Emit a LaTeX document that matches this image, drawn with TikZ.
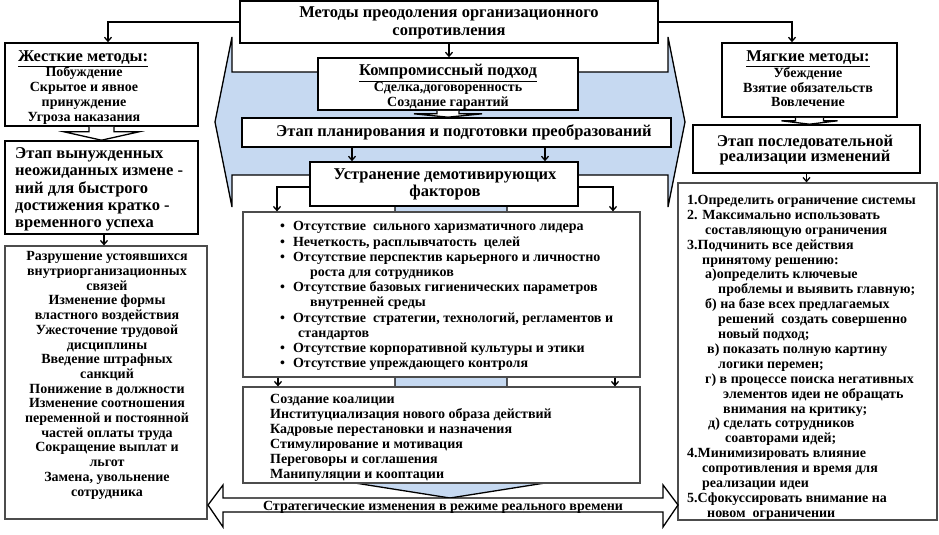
\documentclass[tikz,border=0pt]{standalone}
\usepackage{fontspec}
\setmainfont{Liberation Serif}
\usetikzlibrary{arrows.meta,calc}
\definecolor{paleblue}{RGB}{198,217,241}
\begin{document}
\begin{tikzpicture}[x=1pt,y=-1pt,
  hbox/.style n args={2}{draw=black,line width=1.6pt,fill=white,inner sep=0pt,minimum width=#1pt,minimum height=#2pt},
  lbox/.style n args={2}{draw=black!70,line width=1.2pt,fill=white,inner sep=0pt,minimum width=#1pt,minimum height=#2pt},
  head/.style={inner sep=0pt,font=\bfseries\fontsize{16.5}{17.5}\selectfont,align=center},
  body/.style={inner sep=0pt,font=\bfseries\fontsize{14}{14.8}\selectfont},
  arr/.style={line width=1.3pt,-{Straight Barb[length=4pt,width=7pt]}},
  chev/.style={draw=black,line width=1.3pt,fill=white,line join=miter},
  blueshape/.style={draw=black,line width=1.3pt,fill=paleblue,line join=miter}]
\useasboundingbox (0,0) rectangle (939,535);

% blue background shapes
\draw[blueshape] (215,122) -- (232,37) -- (232,72) -- (668,72) -- (668,37) -- (685,122)
  -- (668,207) -- (668,175) -- (232,175) -- (232,207) -- cycle;
\draw[blueshape] (395,175) -- (507,175) -- (507,483) -- (545,483) -- (450,498) -- (355,483) -- (395,483) -- cycle;

% boxes
\node[hbox={418}{42}] (top) at (449,22) {};
\node[hbox={193}{83}] (hard) at (101.5,84.5) {};
\node[hbox={193}{93}] (forced) at (101.5,187.5) {};
\node[lbox={202}{273}] (leftlist) at (106,382.5) {};
\node[hbox={260}{52}] (comp) at (448,84) {};
\node[hbox={429}{29}] (plan) at (456.5,132.5) {};
\node[hbox={268}{44}] (elim) at (444,184) {};
\node[lbox={397}{165}] (bullets) at (441.5,294.5) {};
\node[lbox={397}{96}] (actions) at (441.5,435) {};
\node[hbox={175}{74}] (soft) at (809.5,80) {};
\node[hbox={227}{48}] (seq) at (806.5,149) {};
\node[lbox={259}{337}] (rightlist) at (807.5,351.5) {};

% chevron connectors
\draw[chev] ([xshift=-12.5pt]hard.south) -- ++(0,5) -- ++(-25,0) -- (hard.south |- forced.north)
  -- ($(hard.south)+(37.5,5)$) -- ++(-25,0) -- ++(0,-5);
\draw[chev] ([xshift=-11pt]comp.south) -- ++(0,3) -- ++(-23,0) -- (comp.south |- plan.north)
  -- ($(comp.south)+(34,3)$) -- ++(-23,0) -- ++(0,-3);
\draw[chev] ([xshift=-14pt]soft.south) -- ++(0,3) -- ++(-14,0) -- (soft.south |- seq.north)
  -- ($(soft.south)+(28,3)$) -- ++(-14,0) -- ++(0,-3);

% bottom double arrow
\draw[chev] (208,505) -- (223,485) -- (223,498) -- (663,498) -- (663,485) -- (678,505)
  -- (663,527) -- (663,512) -- (223,512) -- (223,527) -- cycle;
\node[body,anchor=base] (strat) at (443,510) {Стратегические изменения в режиме реального времени};

% connectors
\draw[arr] (top.west) -| ([xshift=6.5pt]hard.north);
\draw[arr] (top.east) -| ([xshift=-17.5pt]soft.north);
\draw[arr] (top.south) -- (top.south |- comp.north);
\draw[arr] ([xshift=-104.5pt]plan.south) -- ([xshift=-104.5pt]plan.south |- elim.north);
\draw[arr] ([xshift=88.5pt]plan.south) -- ([xshift=88.5pt]plan.south |- elim.north);
\draw[arr] ([yshift=-3pt]elim.west) -| ([xshift=-164.5pt]bullets.north);
\draw[arr] ([yshift=-3pt]elim.east) -| ([xshift=171.5pt]bullets.north);
\draw[arr] ([xshift=-163.5pt]bullets.south) -- ([xshift=-163.5pt]actions.north);
\draw[arr] ([xshift=173.5pt]bullets.south) -- ([xshift=173.5pt]actions.north);
\draw[arr] ([xshift=2.5pt]forced.south) -- ([xshift=2.5pt]forced.south |- leftlist.north);
\draw[arr] (seq.south) -- (seq.south |- rightlist.north);

% texts
\node[head,font=\bfseries\fontsize{16.5}{18}\selectfont] (ttl) at (449,23) {Методы преодоления организационного\\сопротивления};
\node[head,anchor=west] (hardh) at (18,59) {\underline{Жесткие методы:}};
\node[body,align=center,anchor=north] (hardt) at (84,66.5) {Побуждение\\Скрытое и явное\\принуждение\\Угроза наказания};
\node[head,font=\bfseries\fontsize{16.5}{17.3}\selectfont,align=left,anchor=north west] (forcedt) at (15,147.5)
  {Этап вынужденных\\неожиданных измене -\\ний для быстрого\\достижения кратко -\\временного успеха};
\node[body,font=\bfseries\fontsize{14}{14.7}\selectfont,align=center,anchor=north] (leftt) at (107,251.5)
  {Разрушение устоявшихся\\внутриорганизационных\\связей\\Изменение формы\hspace*{34pt}\\властного воздействия\hspace*{32pt}\\Ужесточение трудовой\\дисциплины\\Введение штрафных\\санкций\\Понижение в должности\\Изменение соотношения\\переменной и постоянной\\частей оплаты труда\\Сокращение выплат и\\льгот\\Замена, увольнение\\сотрудника};
\node[head] (comph) at (448,73) {\underline{Компромиссный подход}};
\node[body,align=center,anchor=north] (compt) at (448,82.5) {Сделка,договоренность\\Создание гарантий};
\node[head] (plant) at (464,132) {Этап планирования и подготовки преобразований};
\node[head,font=\bfseries\fontsize{16.5}{17}\selectfont] (elimt) at (445,184) {Устранение демотивирующих\\факторов};
\node[body,font=\bfseries\fontsize{14}{15.2}\selectfont,align=left,anchor=north west] (bullt) at (280,221.5)
  {•\hspace*{8pt}Отсутствие~~сильного харизматичного лидера\\
   •\hspace*{8pt}Нечеткость, расплывчатость~~целей\\
   •\hspace*{8pt}Отсутствие перспектив карьерного и личностно\\
   \hspace*{30pt}роста для сотрудников\\
   •\hspace*{8pt}Отсутствие базовых гигиенических параметров\\
   \hspace*{30pt}внутренней среды\\
   •\hspace*{8pt}Отсутствие~~стратегии, технологий, регламентов и\\
   \hspace*{18pt}стандартов\\
   •\hspace*{8pt}Отсутствие корпоративной культуры и этики\\
   •\hspace*{8pt}Отсутствие упреждающего контроля};
\node[body,font=\bfseries\fontsize{14}{15}\selectfont,align=left,anchor=north west] (actt) at (270,394.5)
  {Создание коалиции\\Институциализация нового образа действий\\Кадровые перестановки и назначения\\Стимулирование и мотивация\\Переговоры и соглашения\\Манипуляции и кооптации};
\node[head] (softh) at (808,59) {\underline{Мягкие методы:}};
\node[body,align=center,anchor=north] (softt) at (808,67) {Убеждение\\Взятие обязательств\\Вовлечение};
\node[head,font=\bfseries\fontsize{16.5}{15.5}\selectfont] (seqt) at (805,150) {Этап последовательной\\реализации изменений};
\node[body,font=\bfseries\fontsize{14}{14.9}\selectfont,align=left,anchor=north west] (rightt) at (687,195)
  {1.Определить ограничение системы\\
   2. Максимально использовать\\
   \hspace*{18pt}составляющую ограничения\\
   3.Подчинить все действия\\
   \hspace*{15pt}принятому решению:\\
   \hspace*{18pt}а)определить ключевые\\
   \hspace*{31pt}проблемы и выявить главную;\\
   \hspace*{18pt}б) на базе всех предлагаемых\\
   \hspace*{31pt}решений~~создать совершенно\\
   \hspace*{31pt}новый подход;\\
   \hspace*{20pt}в) показать полную картину\\
   \hspace*{31pt}логики перемен;\\
   \hspace*{18pt}г) в процессе поиска негативных\\
   \hspace*{36pt}элементов идеи не обращать\\
   \hspace*{36pt}внимания на критику;\\
   \hspace*{21pt}д) сделать сотрудников\\
   \hspace*{38pt}соавторами идей;\\
   4.Минимизировать влияние\\
   \hspace*{15pt}сопротивления и время для\\
   \hspace*{15pt}реализации идеи\\
   5.Сфокуссировать внимание на\\
   \hspace*{20pt}новом~~ограничении};
\end{tikzpicture}
\end{document}
